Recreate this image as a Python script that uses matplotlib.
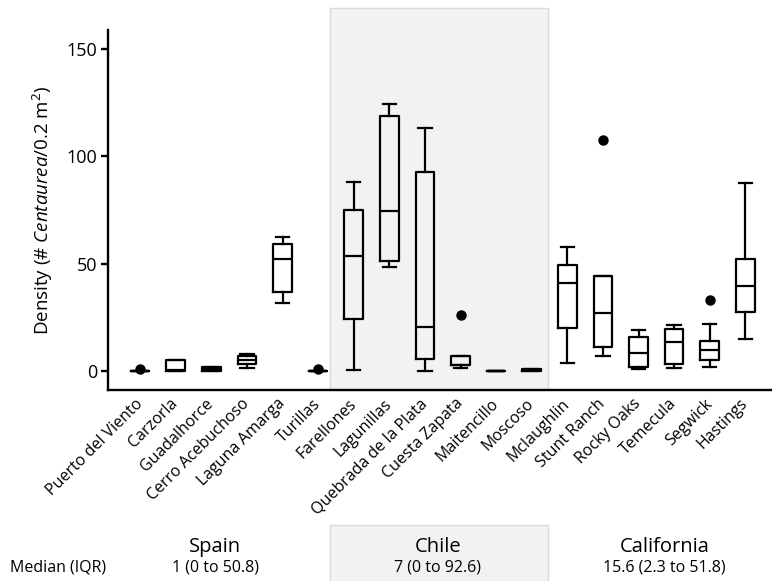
import matplotlib
matplotlib.use("Agg")

import matplotlib.pyplot as plt
import matplotlib.transforms as mtransforms
from matplotlib.patches import Rectangle

# ── Data ───────────────────────────────────────────────────────────────────
sites = ["Puerto del Viento", "Carzorla", "Guadalhorce", "Cerro Acebuchoso",
         "Laguna Amarga", "Turillas", "Farellones", "Lagunillas",
         "Quebrada de la Plata", "Cuesta Zapata", "Maitencillo", "Moscoso",
         "Mclaughlin", "Stunt Ranch", "Rocky Oaks", "Temecula", "Segwick",
         "Hastings"]
whislo = [0, 0, 0, 1.4, 31.5, 0, 0.5, 48.5, 0, 1.2, 0, 0, 3.8, 7.0, 0.7, 1.5, 1.9, 14.9]
q1     = [0, 0, 0, 3.1, 36.6, 0, 24.0, 51.1, 5.4, 2.5, 0, 0, 19.8, 11.2, 1.7, 3.2, 5.0, 27.3]
med    = [0, 0.3, 1.0, 4.8, 52.3, 0, 53.4, 74.6, 20.5, 2.7, 0, 0.4, 40.8, 27.1, 8.5, 13.5, 9.9, 39.6]
q3     = [0, 4.8, 1.9, 6.7, 59.2, 0, 75.0, 118.7, 92.6, 7.1, 0, 0.8, 49.2, 44.1, 15.8, 19.7, 14.1, 52.0]
whishi = [0, 4.8, 1.9, 7.9, 62.5, 0, 88.0, 124.3, 113.2, 7.1, 0, 0.8, 57.6, 44.1, 18.9, 21.4, 21.9, 87.4]
fliers = [[0.7], [], [], [], [], [0.7], [], [], [], [26.1], [], [], [], [107.9], [], [], [33.2], []]

regions = ["Spain", "Chile", "California"]
region_summary = ["1 (0 to 50.8)", "7 (0 to 92.6)", "15.6 (2.3 to 51.8)"]
chile_span = (5.34, 11.46)

yticks = [0, 50, 100, 150]

# ── Style ──────────────────────────────────────────────────────────────────
plt.rcParams.update({
    "font.family": ["Open Sans", "DejaVu Sans"],
    "mathtext.fontset": "custom",
    "mathtext.rm": "Open Sans",
    "mathtext.it": "Open Sans:italic",
    "axes.linewidth": 1.7,
})

fig = plt.figure(figsize=(7.72, 5.81), dpi=100)
ax = fig.add_axes([0.140, 0.329, 0.860, 0.619])

stats = []
for i, name in enumerate(sites):
    stats.append(dict(label=name, whislo=whislo[i], q1=q1[i], med=med[i],
                      q3=q3[i], whishi=whishi[i], fliers=fliers[i]))

line_kw = dict(color="black", linewidth=1.6)
ax.bxp(stats, positions=range(len(sites)), widths=0.52, capwidths=0.38,
       showfliers=True, patch_artist=False,
       boxprops=line_kw, medianprops=line_kw, whiskerprops=line_kw,
       capprops=line_kw,
       flierprops=dict(marker="o", markerfacecolor="black",
                       markeredgecolor="black", markersize=6.5))

ax.set_xlim(-0.9, 17.75)
ax.set_ylim(-8.9, 158.9)
ax.set_yticks(yticks)
ax.tick_params(axis="y", length=5, width=1.7, labelsize=13, pad=3)
ax.tick_params(axis="x", length=0, labelsize=11.5, pad=4)
ax.set_xticks(range(len(sites)))
ax.set_xticklabels(sites, rotation=45, ha="right", va="center",
                   rotation_mode="anchor")
for lab in ax.get_xticklabels():
    lab.set_transform(lab.get_transform() +
                      mtransforms.ScaledTranslation(0.0, -0.06, fig.dpi_scale_trans))

ax.spines["top"].set_visible(False)
ax.spines["right"].set_visible(False)
ax.set_ylabel(r"Density (# $\mathit{Centaurea}$/0.2 m$^{\mathrm{2}}$)",
              fontsize=13.5, labelpad=8)

# Chile shaded band (extends above the axes)
band_tr = mtransforms.blended_transform_factory(ax.transData, ax.transAxes)
ax.add_patch(Rectangle((chile_span[0], 0), chile_span[1] - chile_span[0], 1.061,
                       transform=band_tr, facecolor="#f2f2f2",
                       edgecolor="#dadada", linewidth=1.0, zorder=0,
                       clip_on=False))

# Bottom summary row
fig_tr = mtransforms.blended_transform_factory(ax.transData, fig.transFigure)
fig.patches.append(Rectangle((chile_span[0], 0.0), chile_span[1] - chile_span[0],
                             0.0964, transform=fig_tr, facecolor="#f2f2f2",
                             edgecolor="#dadada", linewidth=1.0, zorder=0))

region_x = [0.2785, 0.567, 0.861]
for rx, name, summ in zip(region_x, regions, region_summary):
    fig.text(rx, 0.0585, name, ha="center", va="center", fontsize=14.5)
    fig.text(rx, 0.0224, summ, ha="center", va="center", fontsize=11.5)
fig.text(0.075, 0.0224, "Median (IQR)", ha="center", va="center", fontsize=11.5)

fig.savefig("out.png", dpi=100, facecolor="white")
